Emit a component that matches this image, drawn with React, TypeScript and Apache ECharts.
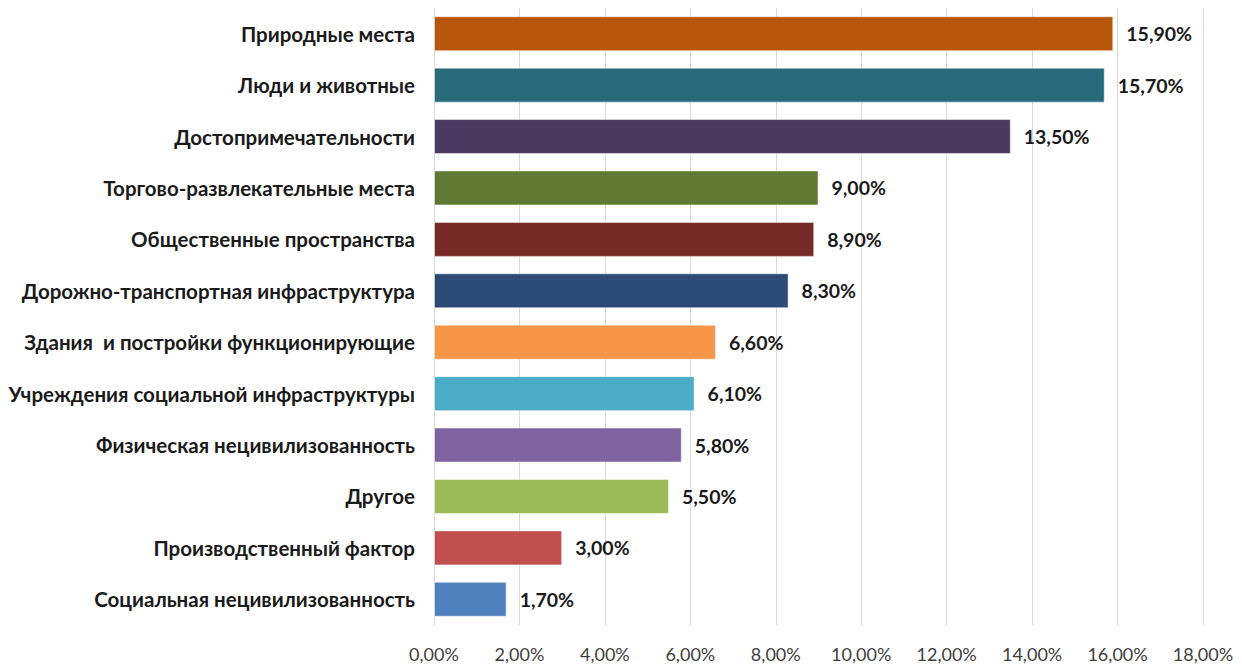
import React, { useEffect, useRef } from "react";
import * as echarts from "echarts";

const categories = [
  "Природные места",
  "Люди и животные",
  "Достопримечательности",
  "Торгово-развлекательные места",
  "Общественные пространства",
  "Дорожно-транспортная инфраструктура",
  "Здания  и постройки функционирующие",
  "Учреждения социальной инфраструктуры",
  "Физическая нецивилизованность",
  "Другое",
  "Производственный фактор",
  "Социальная нецивилизованность",
];

const values = [15.9, 15.7, 13.5, 9.0, 8.9, 8.3, 6.6, 6.1, 5.8, 5.5, 3.0, 1.7];

const barColors = [
  "#b8560b",
  "#286a79",
  "#4a3a62",
  "#5f7832",
  "#772b28",
  "#2b4a75",
  "#f79548",
  "#4bacc6",
  "#8064a2",
  "#9bbb59",
  "#c0504d",
  "#4f81bd",
];

const fmt = (v: number) => v.toFixed(2).replace(".", ",") + "%";

export default function App() {
  const ref = useRef<HTMLDivElement>(null);
  useEffect(() => {
    document.body.style.margin = "0";
    if (!ref.current) return;
    const chart = echarts.init(ref.current, null, { renderer: "svg" });
    const cats = [...categories].reverse();
    const vals = [...values].reverse();
    const cols = [...barColors].reverse();
    chart.setOption({
      animation: false,
      backgroundColor: "#ffffff",
      grid: { left: 434, right: 39, top: 8, bottom: 41, containLabel: false },
      xAxis: {
        type: "value",
        min: 0,
        max: 18,
        interval: 2,
        axisLine: { show: false },
        axisTick: { show: false },
        splitLine: { show: true, lineStyle: { color: "#d9d9d9", width: 1 } },
        axisLabel: {
          formatter: (v: number) => fmt(v),
          color: "#404040",
          fontFamily: "Lato",
          fontSize: 18,
          margin: 20,
        },
      },
      yAxis: {
        type: "category",
        data: cats,
        axisLine: { show: false },
        axisTick: { show: false },
        splitLine: { show: false },
        axisLabel: {
          color: "#1a1a1a",
          fontFamily: "Lato",
          fontWeight: "bold",
          fontSize: 20.5,
          margin: 19,
        },
      },
      series: [
        {
          type: "bar",
          barWidth: 35,
          data: vals.map((v, i) => ({
            value: v,
            itemStyle: { color: cols[i], borderColor: "rgba(255,255,255,0.5)", borderWidth: 1 },
          })),
          label: {
            show: true,
            position: "right",
            distance: 13,
            formatter: (p: any) => fmt(p.value),
            color: "#1a1a1a",
            fontFamily: "Lato",
            fontWeight: "bold",
            fontSize: 19.5,
          },
        },
      ],
    });
    return () => chart.dispose();
  }, []);
  return <div ref={ref} style={{ width: 1242, height: 666 }} />;
}
